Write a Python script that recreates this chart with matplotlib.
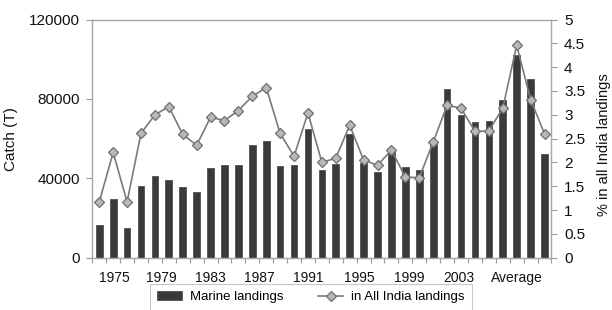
import matplotlib
matplotlib.use("Agg")
import matplotlib.pyplot as plt
from matplotlib.ticker import FixedLocator, FormatStrFormatter

plt.rcParams['font.family'] = ['Liberation Sans', 'DejaVu Sans']

# Categories: one bar per year 1974-2005, then the average
categories = [str(y) for y in range(1974, 2006)] + ['Average']

# Marine landings, tonnes (left axis)
marine_landings = [16700, 29600, 15000, 36200, 41200, 39400, 35500, 33300,
                   45300, 46700, 46700, 56900, 58600, 46100, 46800, 64800,
                   44400, 47300, 62300, 47700, 43000, 53500, 45500, 44100,
                   58300, 85000, 72000, 68400, 68900, 79500, 102000, 89900,
                   52200]

# Share in all India landings, % (right axis)
pct_all_india = [1.17, 2.21, 1.17, 2.61, 3.00, 3.17, 2.59, 2.36,
                 2.95, 2.88, 3.09, 3.39, 3.57, 2.61, 2.13, 3.04,
                 2.00, 2.09, 2.78, 2.05, 1.94, 2.26, 1.69, 1.68,
                 2.43, 3.20, 3.14, 2.65, 2.66, 3.14, 4.46, 3.32,
                 2.60]

# x tick labels as printed in the source figure
tick_labels = ['1975', '1979', '1983', '1987', '1991', '1995', '1999', '2003', 'Average']
# where they sit along the category axis (the source labels drift off the bars)
tick_pos = [1.11, 4.44, 7.96, 11.48, 15.05, 18.69, 22.26, 25.87, 30.0]

fig = plt.figure(figsize=(6.12, 3.10), dpi=100)
ax = fig.add_axes([0.1508, 0.1687, 0.7503, 0.7683])
ax2 = ax.twinx()

x = list(range(len(categories)))
bars = ax.bar(x, marine_landings, width=0.48, color='#3a3a3a',
              edgecolor='#5c5c5c', linewidth=0.7, label='Marine landings')
line, = ax2.plot(x, pct_all_india, color='#7a7a7a', lw=1.2, marker='D',
                 markersize=5.5, markerfacecolor='#b8b8b8',
                 markeredgecolor='#6e6e6e', markeredgewidth=0.9,
                 label='in All India landings')

ax.set_xlim(-0.5, len(categories) - 0.5)
ax.set_ylim(0, 120000)
ax2.set_ylim(0, 5)

ax.set_yticks([0, 40000, 80000, 120000])
ax2.set_yticks([i * 0.5 for i in range(11)])
ax2.yaxis.set_major_formatter(FormatStrFormatter('%g'))

ax.set_xticks(tick_pos)
ax.set_xticklabels(tick_labels)
ax.xaxis.set_minor_locator(FixedLocator([i - 0.5 for i in range(len(categories) + 1)]))

gray = '#9a9a9a'
ax.tick_params(axis='x', which='major', length=0, pad=9.5, labelsize=10, colors='#111111')
ax.tick_params(axis='x', which='minor', length=3.5, width=0.8, color=gray)
ax.tick_params(axis='y', length=4, width=0.8, color=gray, pad=5, labelsize=11,
               labelcolor='#111111')
ax2.tick_params(axis='y', length=4, width=0.8, color=gray, pad=5, labelsize=11,
                labelcolor='#111111')

for a in (ax, ax2):
    for side in ('left', 'right', 'top', 'bottom'):
        a.spines[side].set_color('#a8a8a8')
        a.spines[side].set_linewidth(0.9)

ax.set_ylabel('Catch (T)', fontsize=11, color='#111111')
ax.yaxis.set_label_coords(-0.162, 0.5)
ax2.set_ylabel('% in all India landings', fontsize=10.5, color='#111111')
ax2.yaxis.set_label_coords(1.1, 0.474)

leg = fig.legend([bars, line], ['Marine landings', 'in All India landings'],
                 loc='upper left', bbox_to_anchor=(150 / 612, 1 - 284 / 310),
                 bbox_transform=fig.transFigure, ncol=2, fontsize=9.5,
                 frameon=True, fancybox=False, borderaxespad=0,
                 handlelength=1.9, handleheight=0.6, handletextpad=0.6,
                 columnspacing=2.6, borderpad=0.55)
leg.get_frame().set_edgecolor('#bbbbbb')
leg.get_frame().set_linewidth(0.8)

fig.savefig('out.png', dpi=100)
